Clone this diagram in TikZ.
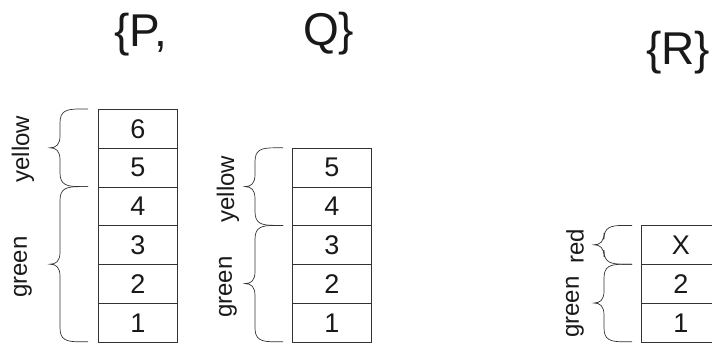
\documentclass[tikz,border=0pt]{standalone}
\usepackage{fontspec}
\setmainfont{Liberation Sans}
\begin{document}
\begin{tikzpicture}[x=1pt,y=-1pt,
  ink/.style={draw=black!80, line width=0.9pt},
  cell/.style={ink, minimum width=79pt, minimum height=38.8pt, inner sep=0pt, anchor=north west, font=\fontsize{27}{28}\selectfont, text=black!90},
  lbl/.style={rotate=90, inner sep=0pt, font=\fontsize{24}{25}\selectfont, text=black!90},
  ttl/.style={anchor=base west, inner sep=0pt, font=\fontsize{46}{48}\selectfont, text=black!90}]
\useasboundingbox (0,0) rectangle (712,345);
\newcommand{\brc}[3]{% xr, ytop, ybot
  \pgfmathsetmacro{\ym}{(#2+#3)/2}
  \draw[ink, line width=0.7pt] (#1,#2) -- (#1-8,#2) .. controls (#1-22,#2) and (#1-28,#2+2) .. (#1-28,#2+14)
    -- (#1-28,\ym-12) .. controls (#1-28,\ym-3) and (#1-32,\ym) .. (#1-38,\ym)
    .. controls (#1-32,\ym) and (#1-28,\ym+3) .. (#1-28,\ym+12)
    -- (#1-28,#3-14) .. controls (#1-28,#3-2) and (#1-22,#3) .. (#1-8,#3) -- (#1,#3);}
% titles
\node[ttl] (tp) at (114,47) {\{P,};
\node[ttl] (tq) at (303,46) {Q\}};
\node[ttl] (tr) at (646,65) {\{R\}};
% stack 1
\node[cell] (a6) at (98,109) {6};
\node[cell] (a5) at (98,147.8) {5};
\node[cell] (a4) at (98,186.6) {4};
\node[cell] (a3) at (98,225.4) {3};
\node[cell] (a2) at (98,264.2) {2};
\node[cell] (a1) at (98,303) {1};
\brc{88}{109}{186.6}
\brc{88}{186.6}{341.8}
\node[lbl] (ay) at (23,149) {yellow};
\node[lbl] (ag) at (23,267) {green};
% stack 2
\node[cell] (b5) at (292,147.8) {5};
\node[cell] (b4) at (292,186.6) {4};
\node[cell] (b3) at (292,225.4) {3};
\node[cell] (b2) at (292,264.2) {2};
\node[cell] (b1) at (292,303) {1};
\brc{283}{147.8}{225.4}
\brc{283}{225.4}{341.8}
\node[lbl] (by) at (228,189) {yellow};
\node[lbl] (bg) at (228,287) {green};
% stack 3
\node[cell] (cx) at (641,225.4) {X};
\node[cell] (c2) at (641,264.2) {2};
\node[cell] (c1) at (641,303) {1};
\brc{632}{225.4}{264.2}
\brc{632}{264.2}{341.8}
\node[lbl] (cr) at (575,246) {red};
\node[lbl] (cg) at (575,307) {green};
\end{tikzpicture}
\end{document}
